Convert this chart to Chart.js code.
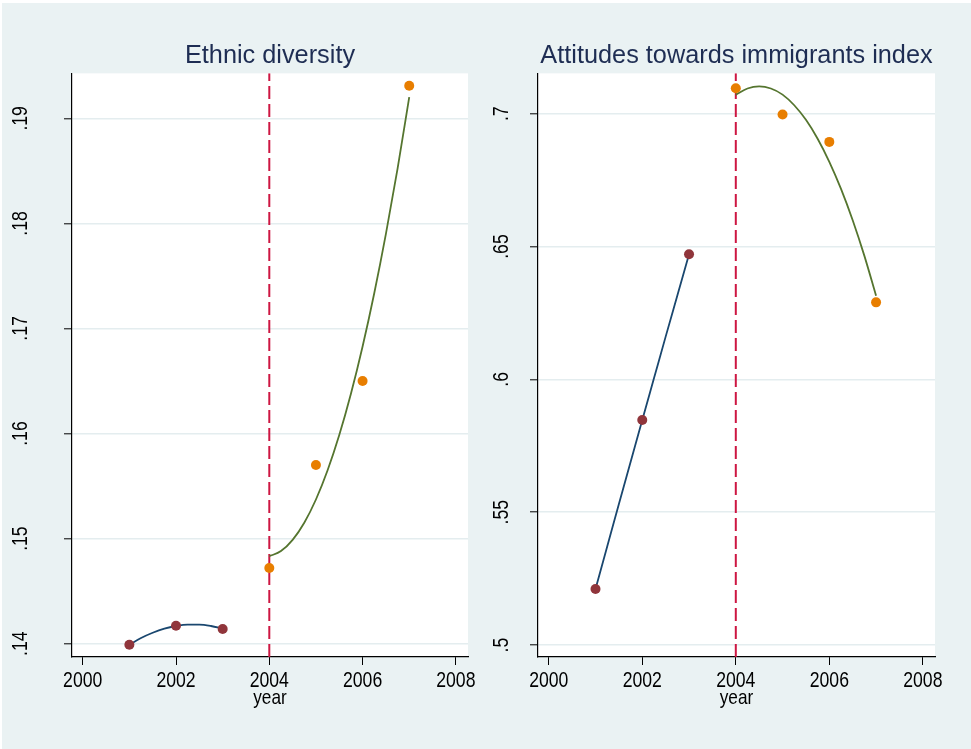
<!DOCTYPE html>
<html>
<head>
<meta charset="utf-8">
<script src="https://cdn.jsdelivr.net/npm/chart.js@4.4.1/dist/chart.umd.min.js"></script>
<style>
  html, body { margin: 0; padding: 0; background: #ffffff; width: 971px; height: 749px; overflow: hidden; }
  #bg { position: absolute; left: 2px; top: 3px; right: 0; bottom: 0; background: #EAF2F3; }
  canvas { position: absolute; left: 0; top: 0; }
</style>
</head>
<body>
<div id="bg"></div>
<canvas id="ethnic" width="971" height="749"></canvas>
<canvas id="attitudes" width="971" height="749"></canvas>
<script>
// Survey years before and after the 2004 break
const preYears = [2001, 2002, 2003];
const postYears = [2004, 2005, 2006, 2007];
const cutoffYear = 2004;

// Ethnic diversity
const ethnicPre = [0.1399, 0.1417, 0.1414];
const ethnicPost = [0.1472, 0.1570, 0.1650, 0.1931];

// Attitudes towards immigrants index
const attitudePre = [0.5211, 0.5847, 0.6471];
const attitudePost = [0.7096, 0.6997, 0.6894, 0.6290];

// Fitted curves, sampled every quarter year
const fitPreYears = [2001, 2001.25, 2001.5, 2001.75, 2002, 2002.25, 2002.5, 2002.75, 2003];
const fitPostYears = [2004, 2004.25, 2004.5, 2004.75, 2005, 2005.25, 2005.5, 2005.75, 2006, 2006.25, 2006.5, 2006.75, 2007];
const ethnicFitPre = [0.1399, 0.14054, 0.14104, 0.14143, 0.14168, 0.14181, 0.14181, 0.14168, 0.14143];
const ethnicFitPost = [0.14832, 0.14881, 0.14988, 0.15151, 0.15372, 0.15650, 0.15985, 0.16378, 0.16828, 0.17335, 0.17900, 0.18522, 0.19201];
const attitudeFitPre = [0.5211, 0.5371, 0.5531, 0.5689, 0.5847, 0.6004, 0.6161, 0.6316, 0.6471];
const attitudeFitPost = [0.7071, 0.7095, 0.7103, 0.7095, 0.7072, 0.7032, 0.6977, 0.6906, 0.6819, 0.6717, 0.6599, 0.6465, 0.6315];

// Axis ticks
const xTicks = [2000, 2002, 2004, 2006, 2008];
const ethnicTicks = [0.14, 0.15, 0.16, 0.17, 0.18, 0.19];
const attitudeTicks = [0.5, 0.55, 0.6, 0.65, 0.7];
const xTitle = 'year';

const NAVY = 'rgb(26,71,111)';
const MAROON = 'rgb(144,53,59)';
const GREEN = 'rgb(85,117,47)';
const ORANGE = 'rgb(232,126,0)';
const CRANBERRY = 'rgb(205,22,66)';
const TITLE_COLOR = 'rgb(30,45,83)';
const GRID = '#E4EDEF';
const SANS = '"Liberation Sans", Arial, sans-serif';
const LABEL_FONT = '21.5px ' + SANS;
const NARROWING = 0.82;   // condensed lettering for axis text

const pairs = (xs, ys) => xs.map((x, i) => ({ x, y: ys[i] }));
const dropZero = v => String(v).replace(/^0\./, '.');

// White plot region
const plotBackground = {
  id: 'plotBackground',
  beforeDraw(chart) {
    const { ctx, chartArea: a } = chart;
    ctx.save();
    ctx.fillStyle = '#ffffff';
    ctx.fillRect(a.left, a.top, a.right - a.left, a.bottom - a.top);
    ctx.restore();
  }
};

// Condensed axis lettering: rotated value labels on y, year labels and title on x
const axisText = {
  id: 'axisText',
  afterDraw(chart, args, opts) {
    const { ctx, chartArea: a } = chart;
    const sx = chart.scales.x, sy = chart.scales.y;
    ctx.save();
    ctx.fillStyle = '#000';
    ctx.textAlign = 'center';
    ctx.textBaseline = 'alphabetic';
    ctx.font = LABEL_FONT;
    sy.ticks.forEach(t => {
      ctx.save();
      ctx.translate(a.left - opts.yOffset, sy.getPixelForValue(t.value));
      ctx.rotate(-Math.PI / 2);
      ctx.scale(NARROWING, 1);
      ctx.fillText(dropZero(t.value), 0, 0);
      ctx.restore();
    });
    sx.ticks.forEach(t => {
      ctx.save();
      ctx.translate(sx.getPixelForValue(t.value), a.bottom + 30);
      ctx.scale(NARROWING, 1);
      ctx.fillText(String(t.value), 0, 0);
      ctx.restore();
    });
    ctx.save();
    ctx.font = '21px ' + SANS;
    ctx.translate((a.left + a.right) / 2, a.bottom + 47);
    ctx.scale(NARROWING, 1);
    ctx.fillText(xTitle, 0, 0);
    ctx.restore();
    ctx.restore();
  }
};

function makePanel(id, cfg) {
  return new Chart(document.getElementById(id), {
    type: 'scatter',
    data: {
      datasets: [
        {
          data: pairs(preYears, cfg.pre),
          backgroundColor: MAROON, borderColor: MAROON,
          pointRadius: 5, pointBorderWidth: 0, showLine: false, order: 0
        },
        {
          data: pairs(postYears, cfg.post),
          backgroundColor: ORANGE, borderColor: ORANGE,
          pointRadius: 5, pointBorderWidth: 0, showLine: false, order: 0
        },
        {
          data: pairs(fitPreYears, cfg.fitPre),
          borderColor: NAVY, borderWidth: 1.8, pointRadius: 0,
          showLine: true, cubicInterpolationMode: 'monotone', order: 1
        },
        {
          data: pairs(fitPostYears, cfg.fitPost),
          borderColor: GREEN, borderWidth: 1.8, pointRadius: 0,
          showLine: true, cubicInterpolationMode: 'monotone', order: 1
        },
        {
          data: [{ x: cutoffYear, y: cfg.yMin }, { x: cutoffYear, y: cfg.yMax }],
          borderColor: CRANBERRY, borderWidth: 2, borderDash: [13, 5],
          pointRadius: 0, showLine: true, order: 2
        }
      ]
    },
    options: {
      responsive: false,
      animation: false,
      events: [],
      layout: { padding: cfg.padding },
      plugins: {
        legend: { display: false },
        tooltip: { enabled: false },
        title: {
          display: true,
          text: cfg.title,
          fullSize: false,
          color: TITLE_COLOR,
          font: { family: SANS, size: 25.3, weight: 'normal', lineHeight: 1.2 },
          padding: { top: 0, bottom: 2 }
        },
        axisText: { yOffset: cfg.labelOffset }
      },
      scales: {
        x: {
          type: 'linear',
          min: 1999.77, max: 2008.26,
          afterBuildTicks: s => { s.ticks = xTicks.map(v => ({ value: v })); },
          afterFit: s => { s.height = 60; },
          grid: { drawOnChartArea: false, drawTicks: true, tickLength: 8, tickColor: '#000', tickWidth: 1 },
          border: { display: true, color: '#000', width: 1.2 },
          ticks: { display: false }
        },
        y: {
          type: 'linear',
          min: cfg.yMin, max: cfg.yMax,
          afterBuildTicks: s => { s.ticks = cfg.yTicks.map(v => ({ value: v })); },
          afterFit: s => { s.width = 40; },
          grid: { color: GRID, lineWidth: 1.6, drawTicks: true, tickLength: 8, tickColor: '#000', tickWidth: 1 },
          border: { display: true, color: '#000', width: 1.2 },
          ticks: { display: false }
        }
      }
    },
    plugins: [plotBackground, axisText]
  });
}

makePanel('ethnic', {
  title: 'Ethnic diversity',
  pre: ethnicPre, post: ethnicPost,
  fitPre: ethnicFitPre, fitPost: ethnicFitPost,
  yTicks: ethnicTicks, yMin: 0.13873, yMax: 0.19428,
  padding: { left: 32, right: 503, top: 41, bottom: 32 },
  labelOffset: 45
});

makePanel('attitudes', {
  title: 'Attitudes towards immigrants index',
  pre: attitudePre, post: attitudePost,
  fitPre: attitudeFitPre, fitPost: attitudeFitPost,
  yTicks: attitudeTicks, yMin: 0.4955, yMax: 0.7152,
  padding: { left: 498, right: 36, top: 41, bottom: 32 },
  labelOffset: 30
});
</script>
</body>
</html>
